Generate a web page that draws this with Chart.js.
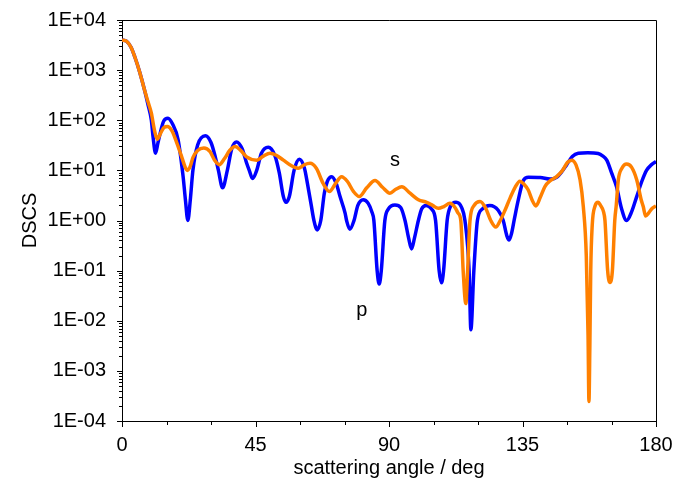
<!DOCTYPE html>
<html>
<head>
<meta charset="utf-8">
<script src="https://cdn.jsdelivr.net/npm/chart.js@4/dist/chart.umd.min.js"></script>
<style>
  html, body { margin: 0; padding: 0; background: #fff; }
  #wrap { width: 674px; height: 489px; }
</style>
</head>
<body>
<div id="wrap"><canvas id="dscsChart" width="674" height="489"></canvas></div>
<script>
// p polarisation (blue)
const pAngle = [0, 1.5, 3, 4.3, 6, 7.6, 8.8, 9.9, 10.5, 11.3, 12.1, 12.7, 14, 15.5, 17, 18.9, 20.6, 21.4, 22.2, 23.0, 23.9, 25.5, 28.1, 30, 31.5, 32.5, 33.9, 35.5, 37, 38.6, 40.5, 42, 42.9, 44, 45.4, 47, 49.3, 51.5, 53, 54.4, 55.3, 56.4, 58, 59.8, 61.5, 62.5, 63.8, 64.7, 65.8, 67.0, 68.2, 69.2, 70.7, 72.2, 73.5, 75.2, 75.7, 76.8, 78.2, 79.5, 81.3, 83, 84.2, 84.9, 86.0, 86.7, 87.4, 88.6, 89.8, 92, 94, 95.4, 96.6, 97.6, 98.6, 99.9, 101, 102.5, 104.3, 105.7, 106.9, 107.7, 108.4, 109.6, 110.7, 112.6, 114.5, 115.6, 117.0, 117.6, 118.6, 119.8, 121.5, 124.0, 126.8, 128.5, 129.7, 130.5, 131.3, 132.3, 133.6, 135.3, 137, 141, 144.3, 146.5, 148.3, 149.9, 151.8, 153.8, 157, 160.5, 162, 163.4, 165, 166.7, 168.3, 170.1, 171.8, 173.5, 175.2, 176.8, 178.5, 180];
const pValue = [4000, 3800, 2900, 1850, 900, 400, 200, 100, 45, 22, 35, 50, 95, 110, 85, 41, 7.5, 2.5, 1.0, 2.5, 10, 32, 49, 36, 18, 10, 4.5, 10, 27, 37, 27, 14, 10, 6.9, 10, 22, 29, 20, 9, 3, 2.3, 3, 10, 16.6, 11, 5.5, 2, 1, 0.65, 1, 3.5, 6, 7.5, 5.5, 3, 1.4, 1.0, 0.67, 1.0, 2.0, 2.6, 2.2, 1.5, 1.0, 0.1, 0.054, 0.1, 1.0, 1.7, 2.04, 1.8, 1.0, 0.45, 0.27, 0.45, 1.0, 1.7, 2.0, 1.7, 1.0, 0.1, 0.057, 0.1, 1.0, 1.9, 2.3, 1.8, 1.0, 0.1, 0.0066, 0.1, 1.0, 1.7, 2.0, 1.6, 1.0, 0.5, 0.41, 0.55, 1.1, 2.6, 6.3, 7.3, 7.2, 6.7, 7.3, 9.5, 13, 19, 22, 22.5, 21.7, 19.5, 16, 9, 4.7, 1.8, 1.0, 1.5, 3.0, 6, 10, 13, 15];

// s polarisation (orange)
const sAngle = [0, 1.5, 3, 4.3, 6, 7.6, 8.8, 9.9, 10.9, 11.9, 13, 14.2, 15.3, 16.8, 18.5, 20.2, 21.2, 22.0, 23.0, 23.9, 25.5, 27.6, 29.7, 31.2, 32.8, 34.5, 36.3, 38.1, 40, 42, 45.4, 47.5, 49.9, 52, 54.4, 57, 59.4, 61.3, 63.4, 65.5, 67.8, 69.9, 72, 74.0, 76, 78, 80.0, 82.5, 85.3, 87.8, 90.3, 92.3, 94.3, 97.1, 99.9, 102.7, 104.7, 106.6, 108.5, 110.5, 112.3, 113.3, 114.2, 115.0, 115.9, 116.5, 117.3, 118.7, 120.7, 122.5, 124.3, 126.0, 127.5, 129.1, 130.8, 132.5, 134.1, 135.5, 136.9, 138.2, 139.5, 141, 142.6, 144.5, 146.5, 148.5, 150.2, 151.6, 153, 154.4, 155.5, 156.5, 157.1, 157.4, 157.7, 158.0, 158.5, 159.4, 160.5, 161.3, 162.3, 162.8, 163.7, 164.5, 165.3, 166.1, 166.6, 167.3, 168.5, 170.1, 171.8, 173.5, 175.0, 175.7, 176.5, 177.5, 178.5, 180];
const sValue = [4000, 3800, 2900, 1850, 900, 400, 230, 138, 65, 42, 55, 72, 75, 62, 35, 18, 12, 10, 12, 18, 25, 28, 23.5, 16, 13, 17, 25, 30, 25, 18.6, 16, 19, 22, 20, 16, 12.5, 11, 12.8, 13.8, 11, 5.5, 3.8, 5.5, 7.5, 6, 3.8, 3.0, 4.5, 6.3, 4.6, 3.5, 4.2, 4.7, 3.5, 2.6, 2.3, 2.0, 1.75, 1.9, 2.2, 1.8, 1.4, 1.0, 0.1, 0.022, 0.1, 1.0, 2.0, 2.4, 1.8, 1.0, 0.74, 1.0, 1.6, 2.8, 4.6, 6.1, 5.3, 4.1, 2.6, 1.95, 2.9, 4.8, 6.3, 7.5, 10, 14.5, 16, 13, 6.5, 1.9, 0.2, 0.005, 0.000245, 0.003, 0.1, 0.8, 1.9, 2.3, 2.0, 1.5, 1.0, 0.1, 0.058, 0.1, 1.0, 2.0, 6.5, 11, 13.4, 11.5, 6.5, 2.6, 1.9, 1.23, 1.4, 1.7, 1.95];

// axis ranges
const angleTicks = [0, 45, 90, 135, 180];
const minExp = -4;
const maxExp = 4;

const FONT = "'Liberation Sans', Arial, sans-serif";
const FONT_SIZE = 20;

function toPoints(xs, ys) {
    return xs.map((x, i) => ({ x: x, y: ys[i] }));
}

function sciLabel(v) {
    const e = Math.round(Math.log10(v));
    const sign = e < 0 ? '-' : '+';
    return '1E' + sign + String(Math.abs(e)).padStart(2, '0');
}

// log ticks: 1..9 in every decade
const logTicks = [];
for (let e = minExp; e <= maxExp; e++) {
    for (let m = 1; m <= 9; m++) {
        if (e === maxExp && m > 1) break;
        logTicks.push({ value: m * Math.pow(10, e), major: m === 1 });
    }
}

// outside tick marks, frame and curve labels
const frameAndTicks = {
    id: 'frameAndTicks',
    afterDraw(chart) {
        const { ctx, chartArea: a, scales: { x, y } } = chart;
        ctx.save();
        ctx.strokeStyle = '#000';
        ctx.lineWidth = 1;
        ctx.beginPath();
        // top and right frame
        ctx.moveTo(a.left, a.top + 0.5);
        ctx.lineTo(a.right + 0.5, a.top + 0.5);
        ctx.lineTo(a.right + 0.5, a.bottom);
        y.ticks.forEach(t => {
            const py = Math.round(y.getPixelForValue(t.value)) + 0.5;
            const len = t.major ? 5 : 3;
            ctx.moveTo(a.left - len, py);
            ctx.lineTo(a.left, py);
        });
        x.ticks.forEach(t => {
            const px = Math.round(x.getPixelForValue(t.value)) + 0.5;
            const len = angleTicks.includes(t.value) ? 6 : 4;
            ctx.moveTo(px, a.bottom);
            ctx.lineTo(px, a.bottom + len);
        });
        ctx.stroke();

        ctx.fillStyle = '#000';
        ctx.font = FONT_SIZE + 'px ' + FONT;
        ctx.textAlign = 'center';
        ctx.textBaseline = 'middle';
        ctx.fillText('s', x.getPixelForValue(92), y.getPixelForValue(16));
        ctx.fillText('p', x.getPixelForValue(80.8), y.getPixelForValue(0.016));
        ctx.restore();
    }
};

const ctx = document.getElementById('dscsChart').getContext('2d');

new Chart(ctx, {
    type: 'line',
    data: {
        datasets: [
            {
                label: 's',
                data: toPoints(sAngle, sValue),
                borderColor: '#ff8000',
                borderWidth: 3.5,
                pointRadius: 0,
                fill: false,
                cubicInterpolationMode: 'monotone'
            },
            {
                label: 'p',
                data: toPoints(pAngle, pValue),
                borderColor: '#0000ff',
                borderWidth: 3.5,
                pointRadius: 0,
                fill: false,
                cubicInterpolationMode: 'monotone'
            }
        ]
    },
    options: {
        responsive: false,
        animation: false,
        layout: { padding: { top: 20, right: 18, left: 0, bottom: 0 } },
        plugins: {
            legend: { display: false },
            tooltip: { enabled: false }
        },
        scales: {
            x: {
                type: 'linear',
                min: 0,
                max: 180,
                border: { display: true, color: '#000', width: 1 },
                grid: { display: true, drawOnChartArea: false, drawTicks: false },
                ticks: {
                    stepSize: 15,
                    autoSkip: false,
                    maxRotation: 0,
                    padding: 12,
                    color: '#000',
                    font: { family: FONT, size: FONT_SIZE },
                    callback: v => angleTicks.includes(v) ? String(v) : ''
                },
                title: {
                    display: true,
                    text: 'scattering angle / deg',
                    color: '#000',
                    font: { family: FONT, size: FONT_SIZE },
                    padding: { top: 0, bottom: 9 }
                },
                afterFit: scale => {
                    scale.height = 68;
                    scale.paddingLeft = 0;
                    scale.paddingRight = 0;
                }
            },
            y: {
                type: 'logarithmic',
                min: 1e-4,
                max: 1e4,
                border: { display: true, color: '#000', width: 1 },
                grid: { display: true, drawOnChartArea: false, drawTicks: false },
                afterBuildTicks: scale => { scale.ticks = logTicks.map(t => ({ ...t })); },
                ticks: {
                    autoSkip: false,
                    padding: 16,
                    color: '#000',
                    font: { family: FONT, size: FONT_SIZE },
                    callback: function (v, i, ticks) {
                        return ticks[i].major ? sciLabel(v) : '';
                    }
                },
                title: {
                    display: true,
                    text: 'DSCS',
                    color: '#000',
                    font: { family: FONT, size: FONT_SIZE },
                    padding: { top: 18, bottom: 0 }
                },
                afterFit: scale => {
                    scale.width = 122;
                    scale.paddingTop = 0;
                    scale.paddingBottom = 0;
                }
            }
        }
    },
    plugins: [frameAndTicks]
});
</script>
</body>
</html>
